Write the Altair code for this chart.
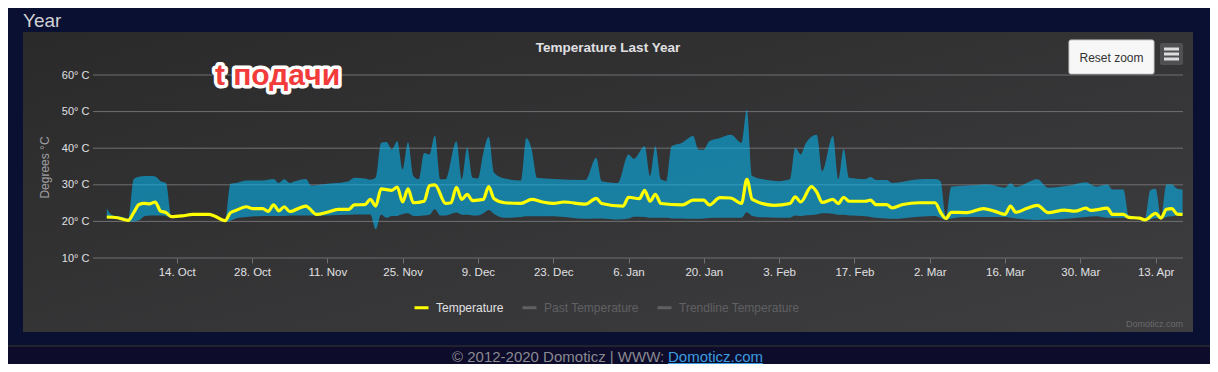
import altair as alt
import pandas as pd

# ---------------- data ----------------
START = "2019-10-01"  # day 0

LINE_DAYS = [0, 2, 4, 5, 6, 7, 8, 9, 10, 11, 12, 14, 16, 19, 20, 22, 23, 24, 26, 27, 29, 30,
             31, 32, 33, 34, 37, 39, 41, 43, 45, 46, 48, 49, 50, 51, 53, 54, 55, 56, 57, 59,
             60, 61, 63, 64, 65, 66, 67, 68, 70, 71, 72, 74, 77, 79, 81, 83, 85, 89, 91, 92,
             96, 97, 99, 100, 101, 102, 103, 107, 109, 111, 112, 114, 116, 118, 119, 120, 124,
             127, 128, 129, 131, 132, 133, 135, 136, 137, 138, 141, 142, 143, 145, 146, 148,
             151, 154, 155, 156, 157, 160, 163, 165, 167, 168, 169, 171, 173, 175, 178, 180,
             182, 183, 186, 187, 189, 190, 192, 193, 195, 196, 197, 198, 199, 200]
LINE_TEMP = [21.2, 21.0, 20.3, 22.4, 24.6, 24.9, 24.8, 25.3, 22.8, 22.4, 21.3, 21.5, 21.9, 21.9,
             21.5, 20.2, 22.4, 23.0, 24.0, 23.5, 23.5, 22.7, 24.5, 22.9, 24.0, 22.7, 24.2, 21.9,
             22.5, 23.3, 23.3, 24.5, 24.6, 26.0, 24.2, 28.9, 28.5, 29.4, 25.3, 28.9, 25.1, 25.5,
             29.8, 30.0, 24.9, 25.1, 29.3, 26.0, 27.4, 25.7, 26.0, 29.5, 26.2, 25.1, 24.9, 26.0,
             25.3, 24.9, 25.3, 24.7, 26.3, 24.9, 24.2, 26.6, 26.2, 28.5, 25.5, 27.4, 24.9, 24.5,
             25.8, 25.8, 24.5, 26.5, 26.4, 24.9, 31.5, 26.0, 24.4, 24.9, 26.7, 25.3, 29.5, 28.0,
             25.2, 26.0, 24.9, 26.6, 25.5, 25.5, 25.8, 24.6, 24.6, 23.7, 24.6, 25.1, 25.1, 22.5,
             20.8, 22.5, 22.4, 23.5, 22.8, 21.9, 24.2, 22.5, 23.5, 24.4, 22.4, 23.1, 22.8, 23.6,
             23.0, 23.6, 21.9, 21.9, 21.1, 20.9, 20.4, 22.2, 20.9, 23.3, 23.5, 22.0, 21.9]

AREA_DAYS = [0, 1, 3, 4, 5, 6, 7, 8, 9, 10, 11, 12, 14, 16, 19, 20, 22, 23, 24, 26, 28, 29, 31,
             32, 33, 34, 35, 37, 38, 40, 42, 45, 46, 48, 49, 50, 51, 52, 53, 54, 55, 56, 57, 58,
             59, 60, 61, 62, 63, 65, 66, 67, 68, 69, 70, 71, 72, 74, 77, 78, 79, 80, 83, 89, 91,
             92, 95, 97, 98, 100, 101, 102, 103, 104, 105, 107, 109, 110, 111, 112, 114, 116,
             118, 119, 120, 122, 125, 127, 128, 129, 130, 132, 133, 135, 136, 137, 138, 141,
             142, 143, 145, 146, 151, 154, 155, 156, 157, 160, 164, 167, 168, 169, 173, 175,
             179, 182, 184, 186, 187, 189, 190, 192, 193, 194, 195, 196, 197, 198, 199, 200]
AREA_MIN = [20.8, 20.8, 20.4, 20.0, 20.0, 20.3, 21.4, 21.6, 21.6, 21.6, 21.5, 21.0, 21.2, 21.6,
            21.6, 21.2, 19.9, 20.2, 20.8, 21.2, 21.4, 21.5, 21.5, 21.5, 21.5, 21.6, 21.6, 21.6,
            21.6, 21.6, 21.7, 21.8, 21.9, 21.9, 21.9, 17.8, 21.9, 21.0, 21.5, 21.5, 22.0, 22.2,
            21.5, 21.5, 21.6, 21.8, 23.3, 21.6, 21.6, 22.4, 21.8, 21.8, 21.6, 21.6, 22.2, 23.1,
            22.0, 21.0, 21.2, 21.4, 21.4, 21.4, 21.4, 20.7, 20.8, 20.8, 20.5, 20.8, 21.3, 21.2,
            21.0, 21.0, 21.0, 21.0, 20.8, 20.8, 20.7, 20.7, 20.8, 20.9, 21.0, 21.0, 21.0, 22.5,
            21.5, 21.1, 21.0, 21.0, 21.6, 21.5, 21.7, 21.9, 22.2, 22.1, 21.8, 21.8, 21.6, 21.4,
            21.2, 21.0, 20.8, 20.7, 21.3, 21.5, 21.0, 20.4, 20.8, 21.2, 21.2, 21.2, 21.0, 20.8,
            20.4, 20.5, 20.8, 21.2, 21.4, 21.0, 21.0, 21.0, 20.9, 20.6, 20.0, 20.5, 20.9, 20.6,
            21.2, 21.4, 21.6, 21.6]
AREA_MAX = [23.5, 21.7, 21.2, 20.7, 31.5, 32.2, 32.4, 32.4, 32.3, 31.0, 30.5, 21.6, 21.8, 22.2,
            22.2, 21.8, 20.5, 30.3, 30.5, 31.2, 31.2, 31.2, 31.6, 30.5, 31.5, 30.5, 31.0, 31.6,
            29.8, 30.1, 30.4, 31.0, 31.9, 31.7, 31.4, 32.0, 41.5, 41.7, 39.6, 41.9, 34.2, 41.6,
            32.4, 31.5, 38.7, 38.3, 43.5, 31.5, 31.5, 41.9, 31.5, 40.1, 31.9, 31.7, 38.7, 43.1,
            33.3, 31.7, 31.2, 42.8, 39.6, 31.9, 31.6, 31.3, 37.4, 31.0, 30.5, 38.3, 37.1, 40.5,
            32.4, 40.5, 31.5, 31.0, 40.5, 41.5, 43.3, 39.6, 39.6, 41.9, 42.8, 43.7, 41.5, 50.5,
            32.4, 31.5, 31.0, 31.5, 40.1, 38.3, 41.5, 43.7, 33.7, 43.3, 31.5, 39.8, 31.9, 31.5,
            32.1, 31.3, 31.3, 30.5, 31.5, 31.6, 31.0, 21.3, 29.5, 29.8, 30.1, 29.2, 30.4, 29.4,
            31.5, 29.2, 29.8, 30.7, 29.5, 30.1, 28.7, 28.7, 21.6, 21.2, 20.7, 28.5, 28.9, 21.2,
            30.1, 30.1, 28.9, 28.7]

Y_TICKS = [10, 20, 30, 40, 50, 60]
X_TICK_DATES = ["2019-10-14", "2019-10-28", "2019-11-11", "2019-11-25", "2019-12-09",
                "2019-12-23", "2020-01-06", "2020-01-20", "2020-02-03", "2020-02-17",
                "2020-03-02", "2020-03-16", "2020-03-30", "2020-04-13"]
SERIES = ["Temperature", "Past Temperature", "Trendline Temperature"]
SERIES_COLORS = ["#ffff00", "#606063", "#606063"]


def to_dates(days):
    idx = pd.Timestamp(START) + pd.to_timedelta(days, unit="D")
    return list(idx.strftime("%Y-%m-%dT%H:%M:%S"))


line_df = pd.DataFrame({"date": to_dates(LINE_DAYS), "temp": LINE_TEMP, "series": SERIES[0]})
area_df = pd.DataFrame({"date": to_dates(AREA_DAYS), "lo": AREA_MIN, "hi": AREA_MAX})
grid_df = pd.DataFrame({"v": Y_TICKS})
one = pd.DataFrame({"k": [0]})

FONT = "Liberation Sans"
W, H = 1090, 183


def dt(s, h=0, m=0):
    return alt.DateTime(year=int(s[:4]), month=int(s[5:7]), date=int(s[8:10]), hours=h, minutes=m)


xscale = alt.Scale(domain=[dt("2019-09-28", 10, 30), dt("2020-04-18", 2, 0)])
xaxis = alt.Axis(values=[dt(s) for s in X_TICK_DATES], format="%-d. %b", grid=False, domain=False,
                 ticks=True, tickSize=5, tickColor="#707073", labelColor="#e0e0e3", labelFont=FONT,
                 labelFontSize=11.5, labelPadding=3, labelOverlap=False, labelFlush=False,
                 title=None, zindex=1)
yscale = alt.Scale(domain=[10, 60], nice=False, zero=False)
yaxis = alt.Axis(values=Y_TICKS, labelExpr="datum.value + '° C'", grid=False, ticks=False,
                 domain=False, labelColor="#e0e0e3", labelFont=FONT, labelFontSize=11,
                 labelPadding=4, title="Degrees °C", titleColor="#a0a0a3", titleFont=FONT,
                 titleFontSize=12, titleFontWeight="normal", titleAngle=270, titleX=-49,
                 titleY=92, titleAlign="center", titleBaseline="middle", zindex=1)

X = alt.X("date:T", scale=xscale, axis=xaxis)

# ---------------- decoration ----------------
panel = alt.Chart(one).mark_rect(
    fill=alt.Gradient(gradient="linear",
                      stops=[alt.GradientStop(offset=0, color="#2a2a2b"),
                             alt.GradientStop(offset=1, color="#3e3e40")],
                      x1=0, y1=0, x2=1, y2=1)
).encode(x=alt.value(-70), x2=alt.value(1100), y=alt.value(-43), y2=alt.value(257))

footer_bg = alt.Chart(one).mark_rect(fill="#0d0c2b").encode(
    x=alt.value(-85), x2=alt.value(1117), y=alt.value(271), y2=alt.value(289))
footer_line = alt.Chart(one).mark_rule(stroke="#3b3631", strokeWidth=1).encode(
    x=alt.value(-85), x2=alt.value(1117), y=alt.value(271))

year_txt = alt.Chart(one).mark_text(text="Year", align="left", baseline="alphabetic", font=FONT,
                                    fontSize=19, color="#d2d2d6").encode(
    x=alt.value(-70), y=alt.value(-48))
title_txt = alt.Chart(one).mark_text(text="Temperature Last Year", align="center", baseline="middle",
                                     font=FONT, fontSize=13.5, fontWeight="bold",
                                     color="#e0e0e3").encode(x=alt.value(515), y=alt.value(-27))

reset_btn = alt.Chart(one).mark_rect(fill="#f7f7f7", stroke="#cccccc", strokeWidth=1,
                                     cornerRadius=2).encode(
    x=alt.value(976), x2=alt.value(1061), y=alt.value(-35), y2=alt.value(-1))
reset_txt = alt.Chart(one).mark_text(text="Reset zoom", align="center", baseline="middle",
                                     font=FONT, fontSize=12, color="#333333").encode(
    x=alt.value(1018.5), y=alt.value(-17.5))
menu_btn = alt.Chart(one).mark_rect(fill="#505053", cornerRadius=2).encode(
    x=alt.value(1067), x2=alt.value(1090), y=alt.value(-32), y2=alt.value(-10))
menu_lines = [
    alt.Chart(one).mark_rule(stroke="#dddddd", strokeWidth=3).encode(
        x=alt.value(1071), x2=alt.value(1086), y=alt.value(yy))
    for yy in (-26, -21, -16)
]

sticker_white = alt.Chart(one).mark_text(text="t подачи", align="center", baseline="alphabetic",
                                         font=FONT, fontSize=30, fontWeight="bold",
                                         color="#ffffff", stroke="#ffffff", strokeWidth=7,
                                         strokeJoin="round").encode(
    x=alt.value(184.5), y=alt.value(10))
sticker_red = alt.Chart(one).mark_text(text="t подачи", align="center", baseline="alphabetic",
                                       font=FONT, fontSize=30, fontWeight="bold",
                                       color="#f23b3b").encode(
    x=alt.value(184.5), y=alt.value(10))

watermark = alt.Chart(one).mark_text(text="Domoticz.com", align="right", baseline="middle",
                                     font=FONT, fontSize=9, color="#6a6a6c").encode(
    x=alt.value(1090), y=alt.value(249))

foot_txt = alt.Chart(one).mark_text(text="© 2012-2020 Domoticz | WWW:", align="left",
                                    baseline="alphabetic", font=FONT, fontSize=15,
                                    color="#8a8a90").encode(x=alt.value(359), y=alt.value(287))
foot_link = alt.Chart(one).mark_text(text="Domoticz.com", align="left", baseline="alphabetic",
                                     font=FONT, fontSize=15, color="#3a9de0").encode(
    x=alt.value(575), y=alt.value(287))
foot_uline = alt.Chart(one).mark_rule(stroke="#3a9de0", strokeWidth=1).encode(
    x=alt.value(575), x2=alt.value(670), y=alt.value(288.5))

# ---------------- data layers ----------------
grid = alt.Chart(grid_df).mark_rule(color="#707073", strokeWidth=1).encode(
    y=alt.Y("v:Q", scale=yscale, axis=yaxis), x=alt.value(0), x2=alt.value(W))

area = alt.Chart(area_df).mark_area(color="#03befc", opacity=0.55, interpolate="monotone").encode(
    x=X, y=alt.Y("lo:Q", scale=yscale, axis=yaxis), y2="hi:Q")

line = alt.Chart(line_df).mark_line(strokeWidth=3.2, interpolate="monotone").encode(
    x=X, y=alt.Y("temp:Q", scale=yscale, axis=yaxis),
    color=alt.Color("series:N",
                    scale=alt.Scale(domain=SERIES, range=SERIES_COLORS),
                    legend=alt.Legend(title=None, orient="none", legendX=320, legendY=224,
                                      direction="horizontal", symbolType="stroke",
                                      symbolStrokeWidth=3, symbolSize=196, labelFont=FONT,
                                      labelFontSize=12, labelFontWeight="normal",
                                      labelColor=alt.ExprRef(
                                          expr="datum.value == 'Temperature' ? '#e0e0e3' : '#606063'"),
                                      labelOffset=6, columnPadding=12, padding=0, offset=0,
                                      zindex=1)))

chart = alt.layer(
    panel, footer_bg, footer_line, year_txt, title_txt, reset_btn, reset_txt, menu_btn,
    *menu_lines, grid, area, line, sticker_white, sticker_red, watermark,
    foot_txt, foot_link, foot_uline
).properties(
    width=W, height=H,
    autosize=alt.AutoSizeParams(type="none"),
    padding={"left": 85, "top": 67, "right": 27, "bottom": 106},
).configure(background="#0a1032", font=FONT).configure_view(strokeWidth=0)

chart.save("out.html", embed_options={"renderer": "svg", "actions": False})
